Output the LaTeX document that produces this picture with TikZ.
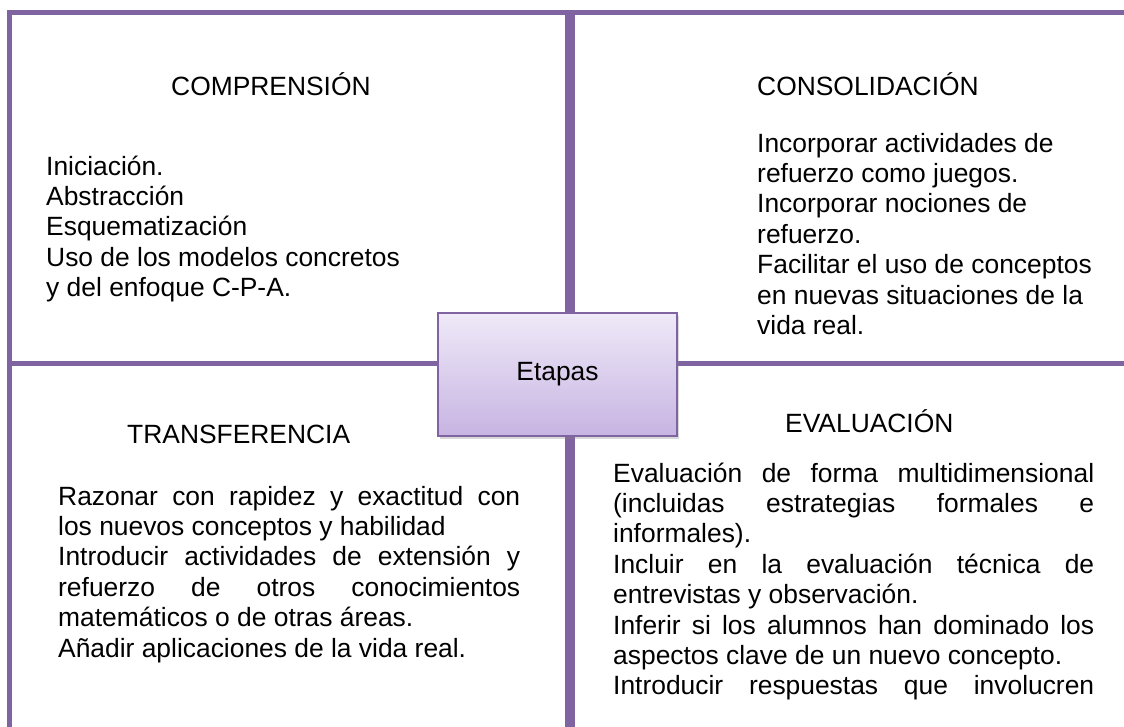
\documentclass[tikz,border=0pt]{standalone}
\usepackage{fontspec}
\setmainfont{Liberation Sans}
\usetikzlibrary{shadows}
\definecolor{purp}{HTML}{8064A2}
\definecolor{boxtop}{HTML}{EFE9F8}
\definecolor{boxbot}{HTML}{C7B4E2}
\newcommand\jl[1]{\hbox to \hsize{#1}}
\newcommand\rl[1]{\hbox{#1}}
\newcommand\txtblock[2]{\vtop{\hsize=#1\relax\baselineskip=30.4pt\lineskiplimit=-1000pt\lineskip=0pt #2}}
\begin{document}
\begin{tikzpicture}[x=1pt,y=-1pt,
  every node/.style={inner sep=0pt, font=\fontsize{26.4pt}{30.4pt}\selectfont},
  frame/.style={draw=purp, line width=5pt},
  txt/.style={anchor=base west},
  centerbox/.style={draw=purp, line width=1.8pt, top color=boxtop, bottom color=boxbot,
    minimum width=239pt, minimum height=123pt,
    drop shadow={opacity=0.3, shadow xshift=1.5pt, shadow yshift=-2.5pt}}]
\useasboundingbox (0,0) rectangle (1124,726);
\clip (0,0) rectangle (1124,726);
% quadrant frames
\draw[frame] (9.5,12.5) rectangle (567.5,363.5);
\draw[frame] (572.5,12.5) rectangle (1140,363.5);
\draw[frame] (9.5,363.5) rectangle (567.5,745);
\draw[frame] (572.5,363.5) rectangle (1140,745);
% headings
\node[txt] (hcomp) at (171,95) {COMPRENSIÓN};
\node[txt] (hcons) at (757,95) {CONSOLIDACIÓN};
\node[txt] (htrans) at (127,443) {TRANSFERENCIA};
\node[txt] (heval) at (785,432) {EVALUACIÓN};
% bodies
\node[txt] (bcomp) at (46,175) {\txtblock{500pt}{%
  \rl{Iniciación.}\rl{Abstracción}\rl{Esquematización}%
  \rl{Uso de los modelos concretos}\rl{y del enfoque C-P-A.}}};
\node[txt] (bcons) at (757,152) {\txtblock{360pt}{%
  \rl{Incorporar actividades de}\rl{refuerzo como juegos.}%
  \rl{Incorporar nociones de}\rl{refuerzo.}%
  \rl{Facilitar el uso de conceptos}\rl{en nuevas situaciones de la}\rl{vida real.}}};
\node[txt] (btrans) at (58,505) {\txtblock{462pt}{%
  \jl{Razonar con rapidez y exactitud con}\rl{los nuevos conceptos y habilidad}%
  \jl{Introducir actividades de extensión y}\jl{refuerzo de otros conocimientos}%
  \rl{matemáticos o de otras áreas.}\rl{Añadir aplicaciones de la vida real.}}};
\node[txt] (beval) at (613,482) {\txtblock{481pt}{%
  \jl{Evaluación de forma multidimensional}\jl{(incluidas estrategias formales e}%
  \rl{informales).}\jl{Incluir en la evaluación técnica de}%
  \rl{entrevistas y observación.}\jl{Inferir si los alumnos han dominado los}%
  \rl{aspectos clave de un nuevo concepto.}\jl{Introducir respuestas que involucren}}};
% center box
\node[centerbox] (etapas) at (557.5,374.5) {Etapas};
\end{tikzpicture}
\end{document}
